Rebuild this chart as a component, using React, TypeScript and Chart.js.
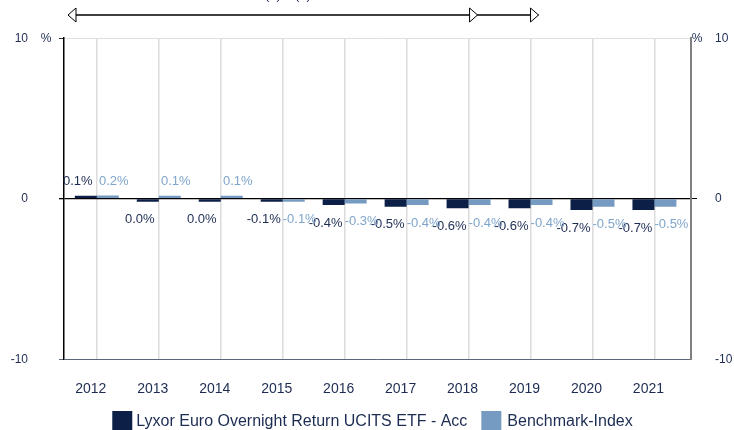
import React, { useEffect, useRef } from "react";
import { Chart, registerables } from "chart.js";

Chart.register(...registerables);

const years = ["2012", "2013", "2014", "2015", "2016", "2017", "2018", "2019", "2020", "2021"];
const fundValues = [0.1, -0.02, -0.02, -0.1, -0.4, -0.5, -0.6, -0.6, -0.7, -0.7];
const benchValues = [0.2, 0.1, 0.1, -0.1, -0.3, -0.4, -0.4, -0.4, -0.5, -0.5];
const fundName = "Lyxor Euro Overnight Return UCITS ETF - Acc";
const benchName = "Benchmark-Index";
const yMin = -10;
const yMax = 10;
const yStep = 10;
const unitLabel = "%";
const periodLabels = ["(1)", "(2)"];

const FONT = "'Liberation Sans', Arial, Helvetica, sans-serif";
const DARK = "#0b1f47";
const LIGHT = "#769bc2";
const TEXT = "#1d2c52";
const LIGHT_TEXT = "#7fa5cb";

const fmt = (v: number) => (Math.abs(v) < 0.05 ? "0.0%" : v.toFixed(1) + "%");

const decorPlugin = {
  id: "decor",
  afterDatasetsDraw(chart: any) {
    const ctx = chart.ctx;
    ctx.save();
    ctx.font = `13px ${FONT}`;
    ctx.textAlign = "center";
    ctx.textBaseline = "middle";
    chart.data.datasets.forEach((ds: any, di: number) => {
      const meta = chart.getDatasetMeta(di);
      meta.data.forEach((bar: any, i: number) => {
        const v = ds.data[i];
        const dx = di === 0 ? -8 : 6;
        const y = v >= 0.05 ? bar.y - 14 : bar.y + 18;
        ctx.fillStyle = di === 0 ? TEXT : LIGHT_TEXT;
        ctx.fillText(fmt(v), bar.x + dx, y);
      });
    });
    ctx.restore();
  },
  afterDraw(chart: any) {
    const ctx = chart.ctx;
    const area = chart.chartArea;
    const xs = chart.scales.x;
    ctx.save();
    ctx.font = `12px ${FONT}`;
    ctx.fillStyle = TEXT;
    ctx.textBaseline = "middle";
    ctx.textAlign = "center";
    ctx.fillText(unitLabel, area.left - 18, area.top);
    ctx.fillText(unitLabel, area.right + 6, area.top);

    const ay = 15;
    const x0 = area.left + 4;
    const x1 = xs.getPixelForValue(6) + 9;
    const x2 = xs.getPixelForValue(7) + 8;
    ctx.strokeStyle = "#000";
    ctx.lineWidth = 1.5;
    ctx.beginPath();
    ctx.moveTo(x0, ay);
    ctx.lineTo(x2, ay);
    ctx.stroke();
    ctx.lineWidth = 1;
    const tri = (tip: number, dir: number) => {
      ctx.beginPath();
      ctx.moveTo(tip, ay);
      ctx.lineTo(tip - dir * 8, ay - 7);
      ctx.lineTo(tip - dir * 8, ay + 7);
      ctx.closePath();
      ctx.fillStyle = "#fff";
      ctx.fill();
      ctx.stroke();
    };
    tri(x0, -1);
    tri(x1, 1);
    tri(x2, 1);
    ctx.font = `13px ${FONT}`;
    ctx.fillStyle = TEXT;
    ctx.textBaseline = "alphabetic";
    ctx.textAlign = "center";
    ctx.fillText(periodLabels[0], 273, -1);
    ctx.fillText(periodLabels[1], 303, -1);

    ctx.font = `16px ${FONT}`;
    ctx.textAlign = "left";
    ctx.textBaseline = "middle";
    const items = [
      { label: fundName, color: DARK },
      { label: benchName, color: LIGHT },
    ];
    const box = 20, gap = 4, spacing = 14;
    const widths = items.map((it) => box + gap + ctx.measureText(it.label).width);
    const total = widths.reduce((a, b) => a + b, 0) + spacing * (items.length - 1);
    let lx = (area.left + area.right) / 2 - 6 - total / 2;
    const ly = 411;
    items.forEach((it, i) => {
      ctx.fillStyle = it.color;
      ctx.fillRect(lx, ly, box, box);
      ctx.fillStyle = TEXT;
      ctx.fillText(it.label, lx + box + gap + (i === 1 ? 2 : 0), ly + 11);
      lx += widths[i] + spacing;
    });
    ctx.restore();
  },
};

export default function App() {
  const ref = useRef<HTMLCanvasElement | null>(null);
  useEffect(() => {
    document.body.style.margin = "0";
    document.body.style.overflow = "hidden";
    const canvas = ref.current;
    if (!canvas) return;
    const gridColor = (v: number, zero: string, bottom: string, top: string) =>
      v === 0 ? zero : v === yMin ? bottom : top;
    const chart = new Chart(canvas, {
      type: "bar",
      data: {
        labels: years,
        datasets: [
          { label: fundName, data: fundValues, backgroundColor: DARK, yAxisID: "y" },
          { label: benchName, data: benchValues, backgroundColor: LIGHT, yAxisID: "y" },
        ],
      },
      plugins: [decorPlugin],
      options: {
        responsive: false,
        animation: false,
        events: [],
        layout: { padding: { top: 34, bottom: 10, left: 0, right: 0 } },
        datasets: {
          bar: { categoryPercentage: 0.71, barPercentage: 1.0, minBarLength: 3 },
        } as any,
        plugins: {
          legend: { display: false },
          tooltip: { enabled: false },
          title: { display: false },
        },
        scales: {
          x: {
            type: "category",
            offset: true,
            afterBuildTicks: (s: any) => {
              s._startValue = -0.53;
              s._valueRange = 10.12;
            },
            grid: {
              offset: false,
              drawTicks: false,
              color: "#dcdcdc",
              lineWidth: 1.5,
            },
            border: { display: false },
            ticks: {
              padding: 22,
              labelOffset: -6,
              color: TEXT,
              font: { family: FONT, size: 14 },
              maxRotation: 0,
              autoSkip: false,
            },
          },
          y: {
            type: "linear",
            position: "left",
            min: yMin,
            max: yMax,
            afterFit: (s: any) => {
              s.width = 64;
            },
            ticks: {
              stepSize: yStep,
              padding: 31,
              color: TEXT,
              font: { family: FONT, size: 12 },
            },
            grid: {
              drawTicks: true,
              tickLength: 5,
              color: (c: any) => gridColor(c.tick?.value, "#000", "#5b6679", "#e0e0e0"),
              tickColor: (c: any) => gridColor(c.tick?.value, "#000", "#5b6679", "#333"),
              lineWidth: (c: any) => (c.tick?.value === 0 ? 1.3 : 1),
            },
            border: { display: true, color: "#000", width: 1.5 },
          },
          y2: {
            type: "linear",
            position: "right",
            min: yMin,
            max: yMax,
            afterFit: (s: any) => {
              s.width = 43;
            },
            ticks: {
              stepSize: yStep,
              padding: 18,
              color: TEXT,
              font: { family: FONT, size: 12 },
            },
            grid: {
              drawOnChartArea: false,
              drawTicks: true,
              tickLength: 6,
              tickColor: (c: any) => (c.tick?.value === 0 ? "#000" : "rgba(0,0,0,0)"),
            },
            border: { display: true, color: "#808080", width: 2 },
          },
        },
      } as any,
    });
    return () => chart.destroy();
  }, []);
  return (
    <div style={{ width: 734, height: 430, position: "relative" }}>
      <canvas ref={ref} width={734} height={430} style={{ display: "block" }} />
    </div>
  );
}
